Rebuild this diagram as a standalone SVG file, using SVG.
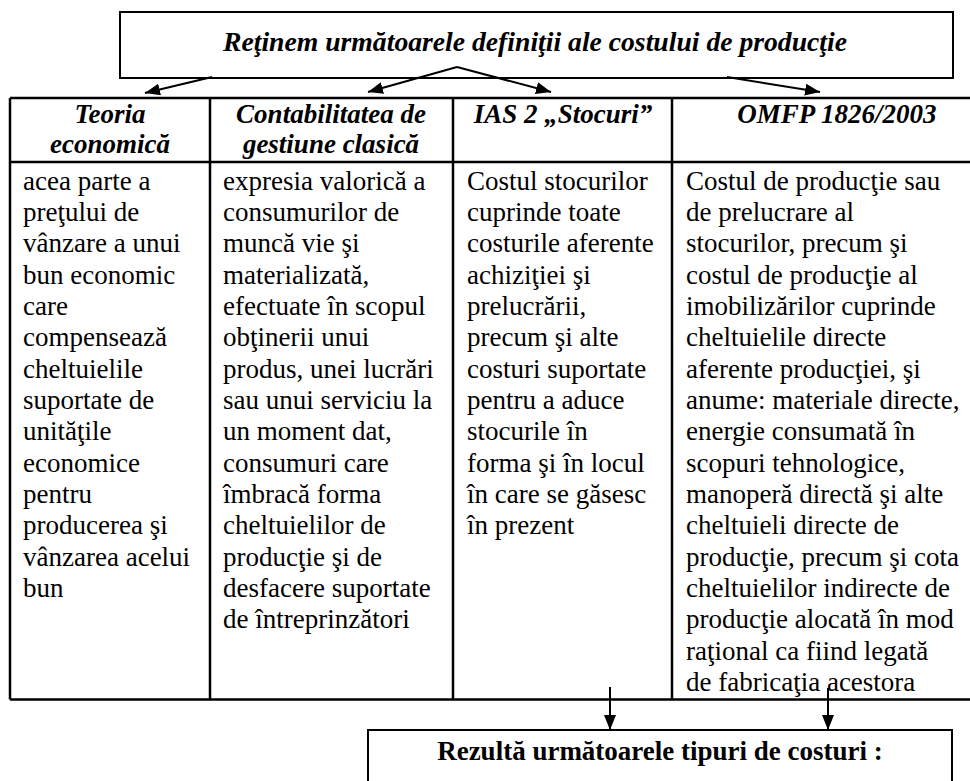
<svg xmlns="http://www.w3.org/2000/svg" width="970" height="781" viewBox="0 0 970 781" font-family="Liberation Serif" font-size="27">
<style>
.box{fill:#fff;stroke:#000;stroke-width:2}
.grid{stroke:#000;stroke-width:2.5;fill:none}
.title{font-weight:bold;font-style:italic}
.hdr{font-weight:bold;font-style:italic;text-anchor:middle}
.res{font-weight:bold;text-anchor:middle}
.conn{stroke:#000;stroke-width:2;fill:none;marker-end:url(#ah)}
</style>
<defs>
<marker id="ah" markerUnits="userSpaceOnUse" markerWidth="16" markerHeight="12" refX="15" refY="6" orient="auto">
<path d="M0,0 L15,6 L0,12 z" fill="#000"/>
</marker>
</defs>
<rect width="970" height="781" fill="#fff"/>

<g id="title-box" font-family="Liberation Serif">
<rect class="box" x="120" y="12" width="833" height="66"/>
<text class="title" x="223" y="51" textLength="624" lengthAdjust="spacingAndGlyphs" font-family="Liberation Serif">Reţinem următoarele definiţii ale costului de producţie</text>
</g>

<g id="table">
<path class="grid" d="M10,98 H970 M10,162 H970 M10,699.5 H970 M10,98 V699.5 M210,98 V699.5 M453,98 V699.5 M672,98 V699.5"/>
</g>

<g id="col-teoria" font-family="Liberation Serif">
<text class="hdr" x="110" y="123" font-family="Liberation Serif">Teoria</text>
<text class="hdr" x="110" y="153" font-family="Liberation Serif">economică</text>
<text class="body" x="23" y="189.5" font-family="Liberation Serif"><tspan x="23">acea parte a</tspan><tspan x="23" dy="31.35">preţului de</tspan><tspan x="23" dy="31.35">vânzare a unui</tspan><tspan x="23" dy="31.35">bun economic</tspan><tspan x="23" dy="31.35">care</tspan><tspan x="23" dy="31.35">compensează</tspan><tspan x="23" dy="31.35">cheltuielile</tspan><tspan x="23" dy="31.35">suportate de</tspan><tspan x="23" dy="31.35">unităţile</tspan><tspan x="23" dy="31.35">economice</tspan><tspan x="23" dy="31.35">pentru</tspan><tspan x="23" dy="31.35">producerea şi</tspan><tspan x="23" dy="31.35">vânzarea acelui</tspan><tspan x="23" dy="31.35">bun</tspan></text>
</g>

<g id="col-contabilitate" font-family="Liberation Serif">
<text class="hdr" x="331" y="123" font-family="Liberation Serif">Contabilitatea de</text>
<text class="hdr" x="331" y="153" font-family="Liberation Serif">gestiune clasică</text>
<text class="body" x="223" y="189.5" font-family="Liberation Serif"><tspan x="223">expresia valorică a</tspan><tspan x="223" dy="31.35">consumurilor de</tspan><tspan x="223" dy="31.35">muncă vie şi</tspan><tspan x="223" dy="31.35">materializată,</tspan><tspan x="223" dy="31.35">efectuate în scopul</tspan><tspan x="223" dy="31.35">obţinerii unui</tspan><tspan x="223" dy="31.35">produs, unei lucrări</tspan><tspan x="223" dy="31.35">sau unui serviciu la</tspan><tspan x="223" dy="31.35">un moment dat,</tspan><tspan x="223" dy="31.35">consumuri care</tspan><tspan x="223" dy="31.35">îmbracă forma</tspan><tspan x="223" dy="31.35">cheltuielilor de</tspan><tspan x="223" dy="31.35">producţie şi de</tspan><tspan x="223" dy="31.35">desfacere suportate</tspan><tspan x="223" dy="31.35">de întreprinzători</tspan></text>
</g>

<g id="col-ias2" font-family="Liberation Serif">
<text class="hdr" x="563" y="123" font-family="Liberation Serif">IAS 2 „Stocuri”</text>
<text class="body" x="467" y="189.5" font-family="Liberation Serif"><tspan x="467">Costul stocurilor</tspan><tspan x="467" dy="31.35">cuprinde toate</tspan><tspan x="467" dy="31.35">costurile aferente</tspan><tspan x="467" dy="31.35">achiziţiei şi</tspan><tspan x="467" dy="31.35">prelucrării,</tspan><tspan x="467" dy="31.35">precum şi alte</tspan><tspan x="467" dy="31.35">costuri suportate</tspan><tspan x="467" dy="31.35">pentru a aduce</tspan><tspan x="467" dy="31.35">stocurile în</tspan><tspan x="467" dy="31.35">forma şi în locul</tspan><tspan x="467" dy="31.35">în care se găsesc</tspan><tspan x="467" dy="31.35">în prezent</tspan></text>
</g>

<g id="col-omfp" font-family="Liberation Serif">
<text class="hdr" x="837" y="123" font-family="Liberation Serif">OMFP 1826/2003</text>
<text class="body" x="686" y="189.5" font-family="Liberation Serif"><tspan x="686">Costul de producţie sau</tspan><tspan x="686" dy="31.35">de prelucrare al</tspan><tspan x="686" dy="31.35">stocurilor, precum şi</tspan><tspan x="686" dy="31.35">costul de producţie al</tspan><tspan x="686" dy="31.35">imobilizărilor cuprinde</tspan><tspan x="686" dy="31.35">cheltuielile directe</tspan><tspan x="686" dy="31.35">aferente producţiei, şi</tspan><tspan x="686" dy="31.35">anume: materiale directe,</tspan><tspan x="686" dy="31.35">energie consumată în</tspan><tspan x="686" dy="31.35">scopuri tehnologice,</tspan><tspan x="686" dy="31.35">manoperă directă şi alte</tspan><tspan x="686" dy="31.35">cheltuieli directe de</tspan><tspan x="686" dy="31.35">producţie, precum şi cota</tspan><tspan x="686" dy="31.35">cheltuielilor indirecte de</tspan><tspan x="686" dy="31.35">producţie alocată în mod</tspan><tspan x="686" dy="31.35">raţional ca fiind legată</tspan><tspan x="686" dy="31.35">de fabricaţia acestora</tspan></text>
</g>

<g id="result-box" font-family="Liberation Serif">
<rect class="box" x="368" y="730" width="584" height="80"/>
<text class="res" x="660" y="760" font-family="Liberation Serif">Rezultă următoarele tipuri de costuri :</text>
</g>

<g id="connectors">
<line class="conn" x1="212" y1="77" x2="145" y2="93"/>
<line class="conn" x1="457" y1="67" x2="368" y2="92"/>
<line class="conn" x1="457" y1="67" x2="551" y2="92"/>
<line class="conn" x1="727" y1="77" x2="820" y2="92"/>
<line class="conn" x1="610" y1="687" x2="610" y2="730"/>
<line class="conn" x1="828" y1="688" x2="828" y2="730"/>
</g>
</svg>
